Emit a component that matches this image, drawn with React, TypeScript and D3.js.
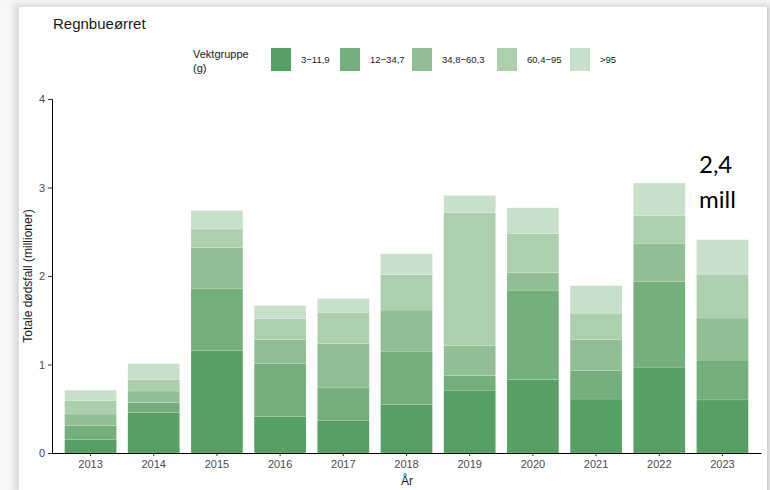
import React, { useEffect, useRef } from "react";
import * as d3 from "d3";

const years = ["2013", "2014", "2015", "2016", "2017", "2018", "2019", "2020", "2021", "2022", "2023"];
const groups = ["3-11,9", "12-34,7", "34,8-60,3", "60,4-95", ">95"];
const colors = ["#579f65", "#74ae7c", "#92be95", "#adcfae", "#c8e0ca"];

// values in millions per weight group
const g1 = [0.15, 0.455, 1.16, 0.41, 0.37, 0.55, 0.71, 0.83, 0.61, 0.97, 0.6];
const g2 = [0.16, 0.115, 0.695, 0.6, 0.365, 0.6, 0.165, 1.01, 0.32, 0.965, 0.45];
const g3 = [0.13, 0.13, 0.465, 0.27, 0.5, 0.465, 0.34, 0.2, 0.35, 0.435, 0.475];
const g4 = [0.15, 0.13, 0.21, 0.24, 0.355, 0.4, 1.5, 0.44, 0.3, 0.31, 0.495];
const g5 = [0.12, 0.18, 0.21, 0.145, 0.155, 0.235, 0.195, 0.29, 0.31, 0.37, 0.39];

const yTicks = [0, 1, 2, 3, 4];

function App() {
  const ref = useRef<SVGSVGElement>(null);

  useEffect(() => {
    const width = 770,
      height = 490;
    const svg = d3.select(ref.current);
    svg.selectAll("*").remove();

    // card background with soft shadow
    const defs = svg.append("defs");
    const f = defs.append("filter").attr("id", "blur").attr("x", "-5%").attr("y", "-5%").attr("width", "110%").attr("height", "110%");
    f.append("feGaussianBlur").attr("stdDeviation", 3);
    svg.append("rect").attr("x", 0).attr("y", 0).attr("width", width).attr("height", height).attr("fill", "#f7f7f7");
    svg.append("rect").attr("x", 14).attr("y", 4).attr("width", 756).attr("height", 490).attr("fill", "#d9d9d9").attr("filter", "url(#blur)");
    svg.append("rect").attr("x", 19).attr("y", 7).attr("width", 748).attr("height", 490).attr("fill", "#fff");
    svg.append("line").attr("x1", 768).attr("x2", 768).attr("y1", 7).attr("y2", height).attr("stroke", "#cfcfcf").attr("stroke-width", 2);

    const table = years.map((yr, i) => ({ year: yr, 0: g1[i], 1: g2[i], 2: g3[i], 3: g4[i], 4: g5[i] }));
    const stack = d3.stack<any>().keys(["0", "1", "2", "3", "4"]);
    const series = stack(table);

    const x = d3.scaleBand().domain(years).range([52, 761]).paddingInner(0.18).paddingOuter(0.2);
    const y = d3.scaleLinear().domain([0, 4]).range([453, 99]);

    const font = "Liberation Sans, Arial, sans-serif";

    svg
      .append("g")
      .selectAll("g")
      .data(series)
      .join("g")
      .attr("fill", (_d, i) => colors[i])
      .selectAll("rect")
      .data((d) => d)
      .join("rect")
      .attr("x", (d: any) => x(d.data.year)!)
      .attr("width", x.bandwidth())
      .attr("y", (d) => y(d[1]))
      .attr("height", (d) => y(d[0]) - y(d[1]))
      .attr("stroke", "#fff")
      .attr("stroke-opacity", 0.25)
      .attr("stroke-width", 0.5);

    // axes
    const yAxis = svg
      .append("g")
      .attr("transform", "translate(52,0)")
      .call(d3.axisLeft(y).tickValues(yTicks).tickFormat(d3.format("d")).tickSize(4).tickPadding(3));
    yAxis.select(".domain").attr("stroke", "#000");
    yAxis.selectAll(".tick line").attr("stroke", "#333");
    yAxis.selectAll("text").attr("font-family", font).attr("font-size", 11).attr("fill", "#4d4d4d");

    const xAxis = svg
      .append("g")
      .attr("transform", "translate(0,453)")
      .call(d3.axisBottom(x).tickSize(3).tickPadding(4).tickSizeOuter(0));
    xAxis.select(".domain").attr("stroke", "#000");
    xAxis.selectAll(".tick line").attr("stroke", "#333");
    xAxis.selectAll("text").attr("font-family", font).attr("font-size", 11).attr("fill", "#4d4d4d");

    svg
      .append("text")
      .attr("x", 407)
      .attr("y", 485)
      .attr("text-anchor", "middle")
      .attr("font-family", font)
      .attr("font-size", 12)
      .attr("fill", "#1a1a1a")
      .text("År");

    svg
      .append("text")
      .attr("transform", "translate(32,276) rotate(-90)")
      .attr("text-anchor", "middle")
      .attr("font-family", font)
      .attr("font-size", 12)
      .attr("fill", "#1a1a1a")
      .text("Totale dødsfall (millioner)");

    // title
    svg
      .append("text")
      .attr("x", 53)
      .attr("y", 29)
      .attr("font-family", font)
      .attr("font-size", 15)
      .attr("fill", "#1a1a1a")
      .text("Regnbueørret");

    // legend
    const legendX = [271, 340, 412, 497, 570];
    const lg = svg.append("g");
    lg.append("text")
      .attr("x", 193)
      .attr("y", 58)
      .attr("font-family", font)
      .attr("font-size", 11)
      .attr("fill", "#1a1a1a")
      .text("Vektgruppe");
    lg.append("text")
      .attr("x", 193)
      .attr("y", 72)
      .attr("font-family", font)
      .attr("font-size", 11)
      .attr("fill", "#1a1a1a")
      .text("(g)");
    groups.forEach((g, i) => {
      lg.append("rect")
        .attr("x", legendX[i])
        .attr("y", 48)
        .attr("width", 20)
        .attr("height", 23)
        .attr("fill", colors[i]);
      lg.append("text")
        .attr("x", legendX[i] + 30)
        .attr("y", 63)
        .attr("font-family", font)
        .attr("font-size", 9.5)
        .attr("fill", "#1a1a1a")
        .text(g.replace("-", "\u2212"));
    });

    // annotation
    const ann = svg.append("g").attr("font-family", "Lato, Carlito, sans-serif").attr("font-size", 24).attr("fill", "#000");
    ann.append("text").attr("x", 699).attr("y", 173).text("2,4");
    ann.append("text").attr("x", 699).attr("y", 208).text("mill");
  }, []);

  return (
    <svg
      ref={ref}
      width={770}
      height={490}
      style={{ position: "absolute", left: 0, top: 0, display: "block" }}
    />
  );
}

export default App;
